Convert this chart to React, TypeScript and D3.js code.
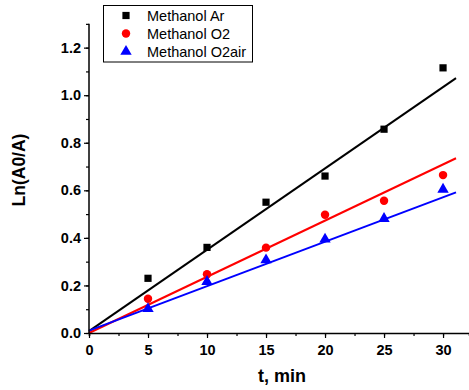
import * as d3 from "d3";
import { useEffect, useRef } from "react";

const times = [5, 10, 15, 20, 25, 30];
const seriesNames = ["Methanol Ar", "Methanol O2", "Methanol O2air"];
const methanolAr = [0.23, 0.36, 0.55, 0.66, 0.857, 1.115];
const methanolO2 = [0.144, 0.247, 0.359, 0.497, 0.556, 0.664];
const methanolO2air = [0.102, 0.216, 0.307, 0.394, 0.481, 0.604];
// linear fits drawn in the reference: [intercept, slope]
const fitParams: [number, number][] = [
  [0.008, 0.0342],
  [0.0, 0.02363],
  [0.01, 0.0187],
];
const fitRange: [number, number] = [0, 31.1];
const xTicks = [0, 5, 10, 15, 20, 25, 30];
const yTicks = [0, 0.2, 0.4, 0.6, 0.8, 1.0, 1.2];

const colors = ["#000000", "#ff0000", "#0000ff"];
const shapes = [d3.symbolSquare, d3.symbolCircle, d3.symbolTriangle];
const sizes = [52, 56, 56];

export default function App() {
  const svgRef = useRef<SVGSVGElement>(null);

  useEffect(() => {
    if (!svgRef.current) return;
    const width = 469;
    const height = 390;
    const font = "'Liberation Sans', Arial, sans-serif";

    const x = d3.scaleLinear().domain([0, 32.2]).range([89, 469]);
    const y = d3.scaleLinear().domain([0, 1.3]).range([333, 333 - 1.3 * 237.8]);

    const svg = d3
      .select(svgRef.current)
      .attr("width", width)
      .attr("height", height)
      .attr("viewBox", [0, 0, width, height])
      .style("font-family", font);

    // fitted lines
    fitParams.forEach(([b, m], k) => {
      svg
        .append("path")
        .datum(fitRange)
        .attr("fill", "none")
        .attr("stroke", colors[k])
        .attr("stroke-width", 2)
        .attr(
          "d",
          d3
            .line<number>()
            .x((t) => x(t))
            .y((t) => y(b + m * t))
        );
    });

    // markers
    const series = [methanolAr, methanolO2, methanolO2air];
    series.forEach((vals, k) => {
      const sym = d3.symbol().type(shapes[k]).size(sizes[k]);
      svg
        .append("g")
        .attr("fill", colors[k])
        .selectAll("path")
        .data(vals)
        .join("path")
        .attr("transform", (d, i) => `translate(${x(times[i])},${y(d)})`)
        .attr("d", sym);
    });

    const styleLabels = (g: d3.Selection<SVGGElement, unknown, null, undefined>) =>
      g
        .selectAll("text")
        .attr("font-family", font)
        .attr("font-size", 14.5)
        .attr("font-weight", "bold")
        .attr("fill", "#000");

    // x axis (minor + major)
    svg
      .append("g")
      .attr("transform", `translate(0,${y(0)})`)
      .call(
        d3
          .axisBottom(x)
          .tickValues(d3.range(0, 32.5, 2.5))
          .tickSize(3)
          .tickFormat(() => "")
      )
      .call((g) => g.select(".domain").attr("stroke-width", 1.5))
      .call((g) => g.selectAll(".tick line").attr("stroke-width", 1.2));
    svg
      .append("g")
      .attr("transform", `translate(0,${y(0)})`)
      .call(
        d3
          .axisBottom(x)
          .tickValues(xTicks)
          .tickSize(5)
          .tickPadding(7)
          .tickFormat(d3.format("d"))
      )
      .call((g) => g.select(".domain").remove())
      .call((g) => g.selectAll(".tick line").attr("stroke-width", 1.2))
      .call(styleLabels);

    // y axis (minor + major)
    svg
      .append("g")
      .attr("transform", `translate(${x(0)},0)`)
      .call(
        d3
          .axisLeft(y)
          .tickValues(d3.range(0, 14).map((i) => i / 10))
          .tickSize(3)
          .tickFormat(() => "")
      )
      .call((g) =>
        g.select(".domain").attr("stroke-width", 1.5).attr("d", `M0,${y(0)}V${y(1.3)}`)
      )
      .call((g) => g.selectAll(".tick line").attr("stroke-width", 1.2));
    svg
      .append("g")
      .attr("transform", `translate(${x(0)},0)`)
      .call(
        d3
          .axisLeft(y)
          .tickValues(yTicks)
          .tickSize(5)
          .tickPadding(3)
          .tickFormat(d3.format(".1f"))
      )
      .call((g) => g.select(".domain").remove())
      .call((g) => g.selectAll(".tick line").attr("stroke-width", 1.2))
      .call(styleLabels);

    // axis titles
    svg
      .append("text")
      .attr("x", 282)
      .attr("y", 382)
      .attr("text-anchor", "middle")
      .attr("font-size", 18)
      .attr("font-weight", "bold")
      .text("t, min");
    svg
      .append("text")
      .attr("transform", "translate(25,170) rotate(-90)")
      .attr("text-anchor", "middle")
      .attr("font-size", 17.5)
      .attr("font-weight", "bold")
      .text("Ln(A0/A)");

    // legend
    const legend = svg.append("g");
    legend
      .append("rect")
      .attr("x", 103.5)
      .attr("y", 5.5)
      .attr("width", 149)
      .attr("height", 56.5)
      .attr("fill", "#fff")
      .attr("stroke", "#000")
      .attr("stroke-width", 1);
    seriesNames.forEach((name, k) => {
      const cy = 15.5 + k * 18;
      legend
        .append("path")
        .attr("transform", `translate(126,${cy})`)
        .attr("fill", colors[k])
        .attr("d", d3.symbol().type(shapes[k]).size(sizes[k])());
      legend
        .append("text")
        .attr("x", 147)
        .attr("y", cy + 5)
        .attr("font-size", 14.5)
        .text(name);
    });

    return () => {
      d3.select(svgRef.current).selectAll("*").remove();
    };
  }, []);

  return (
    <svg
      ref={svgRef}
      style={{ position: "absolute", left: 0, top: 0, background: "#fff" }}
    />
  );
}
